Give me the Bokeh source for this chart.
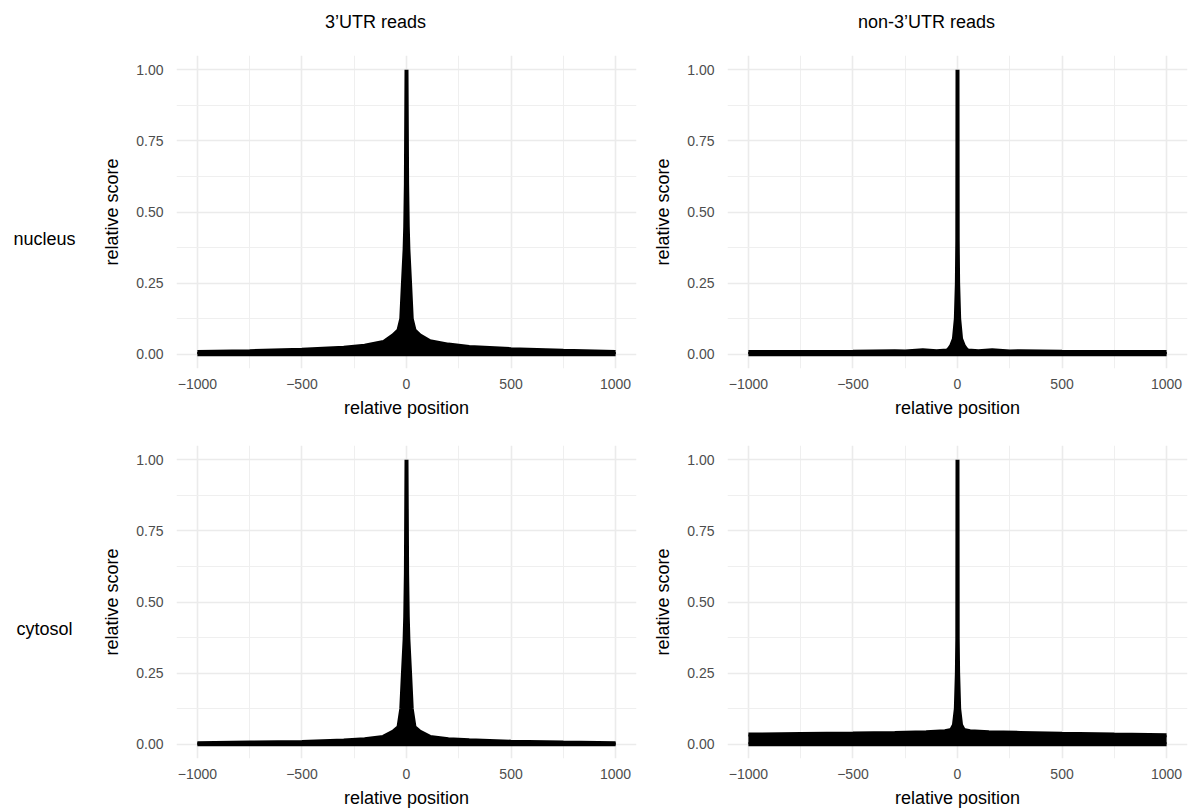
from bokeh.plotting import figure
from bokeh.layouts import column, row
from bokeh.models import Range1d, FixedTicker
from bokeh.core.properties import value
from bokeh.embed import file_html
from bokeh.resources import INLINE

# ---------------- data ----------------
col_titles = ["3\u2019UTR reads", "non-3\u2019UTR reads"]
row_titles = ["nucleus", "cytosol"]

x_ticks = [-1000, -500, 0, 500, 1000]
x_tick_labels = ["\u22121000", "\u2212500", "0", "500", "1000"]
x_minor = [-750, -250, 250, 750]
y_ticks = [0, 0.25, 0.5, 0.75, 1]
y_tick_labels = ["0.00", "0.25", "0.50", "0.75", "1.00"]
y_minor = [0.125, 0.375, 0.625, 0.875]

pos_nuc_utr = [-1000, -750, -500, -300, -200, -110, -63, -38, -25, -17, -9, -6, -3, 0,
               3, 6, 9, 17, 25, 38, 63, 112, 200, 300, 500, 750, 1000]
score_nuc_utr = [0.008, 0.011, 0.016, 0.023, 0.030, 0.043, 0.067, 0.085, 0.125, 0.25, 0.37, 0.45, 0.6, 1.0,
                 0.6, 0.45, 0.37, 0.25, 0.125, 0.085, 0.067, 0.046, 0.034, 0.026, 0.018, 0.012, 0.008]

pos_nuc_non = [-1000, -750, -500, -300, -250, -166, -100, -50, -40, -30, -17, -8, -3, -1, 0,
               1, 3, 8, 17, 30, 40, 50, 100, 166, 250, 300, 500, 750, 1000]
score_nuc_non = [0.008, 0.008, 0.009, 0.011, 0.010, 0.014, 0.011, 0.013, 0.020, 0.030, 0.055, 0.125, 0.25, 0.4, 1.0,
                 0.4, 0.25, 0.125, 0.055, 0.030, 0.020, 0.013, 0.011, 0.014, 0.010, 0.011, 0.009, 0.008, 0.008]

pos_cyt_utr = [-1000, -750, -500, -300, -200, -111, -63, -38, -25, -17, -9, -6, -3, 0,
               3, 6, 9, 17, 25, 38, 63, 112, 200, 300, 500, 750, 1000]
score_cyt_utr = [0.004, 0.006, 0.008, 0.013, 0.018, 0.026, 0.045, 0.061, 0.125, 0.25, 0.37, 0.45, 0.6, 1.0,
                 0.6, 0.45, 0.37, 0.25, 0.125, 0.061, 0.045, 0.026, 0.018, 0.014, 0.009, 0.006, 0.004]

pos_cyt_non = [-1000, -750, -500, -300, -150, -60, -30, -17, -8, -3, -1, 0,
               1, 3, 8, 17, 30, 60, 150, 300, 500, 750, 1000]
score_cyt_non = [0.034, 0.036, 0.038, 0.040, 0.042, 0.046, 0.050, 0.068, 0.125, 0.25, 0.37, 1.0,
                 0.37, 0.25, 0.125, 0.068, 0.050, 0.046, 0.042, 0.040, 0.037, 0.034, 0.032]

FONT = "Liberation Sans"


def panel(pos, score, width, height, mbl, mbr, mbt, mbb):
    p = figure(width=width, height=height, output_backend="svg", toolbar_location=None,
               x_range=Range1d(-1100, 1100), y_range=Range1d(-0.05, 1.05),
               min_border_left=mbl, min_border_right=mbr, min_border_top=mbt, min_border_bottom=mbb)
    p.outline_line_color = None
    p.background_fill_color = "white"
    p.border_fill_color = "white"
    zeros = [0 for _ in pos]
    p.varea(x=pos, y1=zeros, y2=score, fill_color="black")
    p.line(pos, score, line_width=4, line_color="black", line_join="bevel")
    p.line(pos, zeros, line_width=4, line_color="black")

    p.xaxis.ticker = FixedTicker(ticks=x_ticks, minor_ticks=x_minor)
    p.yaxis.ticker = FixedTicker(ticks=y_ticks, minor_ticks=y_minor)
    p.xaxis.major_label_overrides = dict(zip(x_ticks, x_tick_labels))
    p.yaxis.major_label_overrides = dict(zip(y_ticks, y_tick_labels))
    for ax in (p.xaxis, p.yaxis):
        ax.axis_line_color = None
        ax.major_tick_line_color = None
        ax.minor_tick_line_color = None
        ax.major_tick_out = 0
        ax.major_tick_in = 0
        ax.minor_tick_out = 0
        ax.minor_tick_in = 0
        ax.major_label_text_color = "#4D4D4D"
        ax.major_label_text_font = FONT
        ax.major_label_text_font_size = "14px"
        ax.axis_label_text_font = FONT
        ax.axis_label_text_font_size = "18px"
        ax.axis_label_text_font_style = "normal"
        ax.axis_label_text_color = "black"
    p.xaxis.axis_label = "relative position"
    p.yaxis.axis_label = "relative score"
    p.yaxis.major_label_standoff = 13
    p.xaxis.major_label_standoff = 10
    p.yaxis.axis_label_standoff = 11
    p.xaxis.axis_label_standoff = 6
    for g in (p.xgrid, p.ygrid):
        g.grid_line_color = "#EBEBEB"
        g.grid_line_width = 1.6
        g.minor_grid_line_color = "#EFEFEF"
        g.minor_grid_line_width = 1
    return p


def text_fig(w, h, xs, ys, texts, y_top, y_bottom):
    # ranges are expressed in pixels of the figure; the frame of a row
    # is aligned with the panels' frames, so pass its pixel extent
    f = figure(width=w, height=h, output_backend="svg", toolbar_location=None,
               x_range=Range1d(0, w), y_range=Range1d(y_bottom, y_top), min_border=0,
               x_axis_type=None, y_axis_type=None)
    f.grid.visible = False
    f.outline_line_color = None
    f.border_fill_color = "white"
    f.background_fill_color = "white"
    f.text(x=xs, y=ys, text=texts, text_font=value(FONT), text_font_size="18px",
           text_color="black", text_align="center", text_baseline="middle")
    return f


title_fig = text_fig(1189, 40, [375, 926], [21, 21], col_titles, 0, 40)
lab_top = text_fig(96, 390, [44], [198], [row_titles[0]], 15, 328)
lab_bot = text_fig(96, 382, [44], [198], [row_titles[1]], 15, 328)

tl = panel(pos_nuc_utr, score_nuc_utr, 548, 390, 80, 8, 15, 62)
tr = panel(pos_nuc_non, score_nuc_non, 545, 390, 83, 2, 15, 62)
bl = panel(pos_cyt_utr, score_cyt_utr, 548, 382, 80, 8, 15, 54)
br = panel(pos_cyt_non, score_cyt_non, 545, 382, 83, 2, 15, 54)

layout = column(title_fig, row(lab_top, tl, tr), row(lab_bot, bl, br))

open("out.html", "w").write(file_html(layout, INLINE))
